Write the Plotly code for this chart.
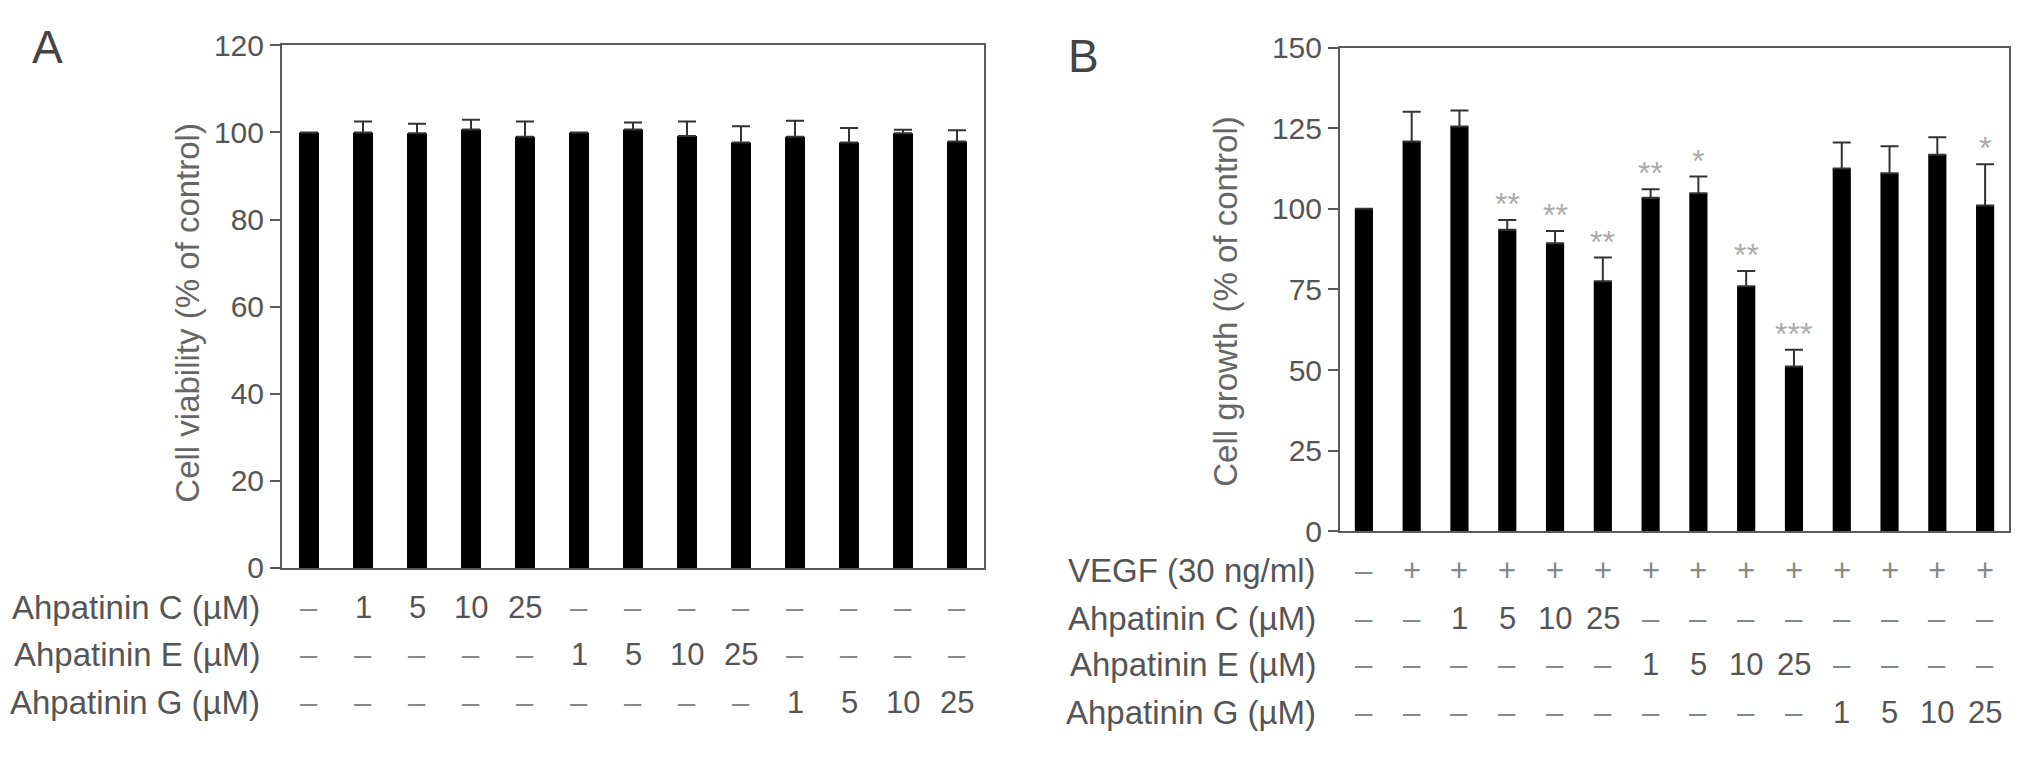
import plotly.graph_objects as go

# Panel A: cell viability
viab_mean = [100.0, 100.0, 99.8, 100.7, 99.0, 100.0, 100.7, 99.2, 97.7, 99.0, 97.7, 99.8, 97.9]
viab_err = [0.0, 2.5, 2.2, 2.2, 3.5, 0.0, 1.6, 3.3, 3.7, 3.7, 3.3, 0.8, 2.6]
a_rows = ["Ahpatinin C (\u00b5M)", "Ahpatinin E (\u00b5M)", "Ahpatinin G (\u00b5M)"]
a_c = ["\u2013", "1", "5", "10", "25", "\u2013", "\u2013", "\u2013", "\u2013", "\u2013", "\u2013", "\u2013", "\u2013"]
a_e = ["\u2013", "\u2013", "\u2013", "\u2013", "\u2013", "1", "5", "10", "25", "\u2013", "\u2013", "\u2013", "\u2013"]
a_g = ["\u2013", "\u2013", "\u2013", "\u2013", "\u2013", "\u2013", "\u2013", "\u2013", "\u2013", "1", "5", "10", "25"]

# Panel B: cell growth
grow_mean = [100.0, 120.9, 125.5, 93.5, 89.3, 77.5, 103.4, 104.8, 76.0, 51.1, 112.5, 111.0, 116.8, 101.0]
grow_err = [0.0, 9.2, 5.0, 3.0, 3.8, 7.4, 2.7, 5.2, 4.7, 5.2, 8.1, 8.4, 5.4, 12.8]
grow_sig = ["", "", "", "**", "**", "**", "**", "*", "**", "***", "", "", "", "*"]
b_rows = ["VEGF (30 ng/ml)", "Ahpatinin C (\u00b5M)", "Ahpatinin E (\u00b5M)", "Ahpatinin G (\u00b5M)"]
b_vegf = ["\u2013", "+", "+", "+", "+", "+", "+", "+", "+", "+", "+", "+", "+", "+"]
b_c = ["\u2013", "\u2013", "1", "5", "10", "25", "\u2013", "\u2013", "\u2013", "\u2013", "\u2013", "\u2013", "\u2013", "\u2013"]
b_e = ["\u2013", "\u2013", "\u2013", "\u2013", "\u2013", "\u2013", "1", "5", "10", "25", "\u2013", "\u2013", "\u2013", "\u2013"]
b_g = ["\u2013", "\u2013", "\u2013", "\u2013", "\u2013", "\u2013", "\u2013", "\u2013", "\u2013", "\u2013", "1", "5", "10", "25"]

# the page body has an 8px margin, so the figure is drawn 16px smaller
OFF = 8
W, H = 2032 - 2 * OFF, 759 - 2 * OFF
FONT = "Liberation Sans, Arial, sans-serif"
TXT = "#555555"
AX = "#5a5a5a"


def py(v):
    # screen pixel row -> paper y
    return 1 - (v - OFF) / H


def px(v):
    # screen pixel column -> paper x
    return (v - OFF) / W


fig = go.Figure()

xa = list(range(len(viab_mean)))
xb = list(range(len(grow_mean)))

fig.add_trace(go.Bar(
    x=xa, y=viab_mean, width=0.37, marker=dict(color="black", line=dict(width=0)),
    error_y=dict(type="data", array=viab_err, arrayminus=[0] * len(viab_err),
                 symmetric=False, color="#333333", thickness=2, width=9),
    xaxis="x", yaxis="y", showlegend=False,
))
fig.add_trace(go.Bar(
    x=xb, y=grow_mean, width=0.38, marker=dict(color="black", line=dict(width=0)),
    error_y=dict(type="data", array=grow_err, arrayminus=[0] * len(grow_err),
                 symmetric=False, color="#333333", thickness=2, width=9),
    xaxis="x2", yaxis="y2", showlegend=False,
))

axis_common = dict(showgrid=False, zeroline=False, linecolor=AX, linewidth=2, mirror=True)

fig.update_layout(
    width=W, height=H,
    margin=dict(l=0, r=0, t=0, b=0),
    paper_bgcolor="white", plot_bgcolor="white",
    font=dict(family=FONT, color=TXT),
    xaxis=dict(domain=[px(282), px(984)], range=[-0.5, len(xa) - 0.5],
               showticklabels=False, ticks="", **axis_common),
    yaxis=dict(domain=[py(577), py(29.3)], range=[0, 120], tickvals=[0, 20, 40, 60, 80, 100, 120],
               ticks="outside", ticklen=10, tickwidth=2, tickcolor=AX,
               tickfont=dict(size=30, color=TXT), **axis_common),
    xaxis2=dict(domain=[px(1340), px(2009)], range=[-0.5, len(xb) - 0.5],
                showticklabels=False, ticks="", anchor="y2", **axis_common),
    yaxis2=dict(domain=[py(538.5), py(31.7)], range=[0, 150], tickvals=[0, 25, 50, 75, 100, 125, 150],
                ticks="outside", ticklen=10, tickwidth=2, tickcolor=AX, anchor="x2",
                tickfont=dict(size=30, color=TXT), **axis_common),
)

ann = []

# panel letters
ann.append(dict(text="A", x=px(30), y=py(31), xref="paper", yref="paper", xanchor="left",
                yanchor="middle", showarrow=False, font=dict(size=46, color="#444444")))
ann.append(dict(text="B", x=px(1066), y=py(40), xref="paper", yref="paper", xanchor="left",
                yanchor="middle", showarrow=False, font=dict(size=46, color="#444444")))

# y axis titles
ann.append(dict(text="Cell viability (% of control)", x=px(167), y=py(310), xref="paper", yref="paper",
                textangle=-90, showarrow=False, font=dict(size=33, color="#666666")))
ann.append(dict(text="Cell growth (% of control)", x=px(1226), y=py(298), xref="paper", yref="paper",
                textangle=-90, showarrow=False, font=dict(size=33, color="#666666")))

# treatment rows under panel A
a_row_y = [618, 668, 718]
for label, vals, yy in zip(a_rows, [a_c, a_e, a_g], a_row_y):
    ann.append(dict(text=label, x=px(262), y=py(yy), xref="paper", yref="paper", xanchor="right",
                    yanchor="middle", showarrow=False, font=dict(size=33, color=TXT)))
    for i, v in enumerate(vals):
        ann.append(dict(text=v, x=xa[i], y=py(yy), xref="x", yref="paper", yanchor="middle",
                        showarrow=False,
                        font=dict(size=31, color="#888888" if v == "\u2013" else TXT)))

# treatment rows under panel B
b_row_y = [580, 630, 678, 728]
for label, vals, yy in zip(b_rows, [b_vegf, b_c, b_e, b_g], b_row_y):
    ann.append(dict(text=label, x=px(1318), y=py(yy), xref="paper", yref="paper", xanchor="right",
                    yanchor="middle", showarrow=False, font=dict(size=33, color=TXT)))
    for i, v in enumerate(vals):
        ann.append(dict(text=v, x=xb[i], y=py(yy), xref="x2", yref="paper", yanchor="middle",
                        showarrow=False,
                        font=dict(size=31, color="#888888" if v in ("\u2013", "+") else TXT)))

# significance marks
for i, s in enumerate(grow_sig):
    if s:
        ann.append(dict(text=s, x=xb[i], y=grow_mean[i] + grow_err[i], xref="x2", yref="y2",
                        yanchor="bottom", yshift=-4, showarrow=False,
                        font=dict(size=32, color="#aaaaaa")))

fig.update_layout(annotations=ann)

fig.write_html("out.html")
